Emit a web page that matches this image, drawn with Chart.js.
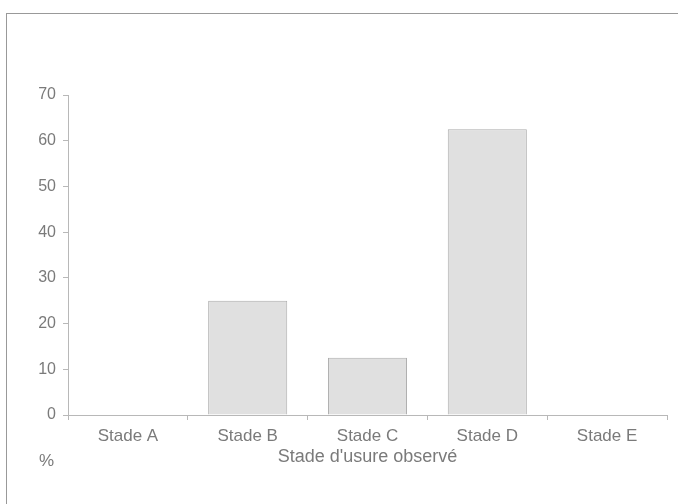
<!DOCTYPE html>
<html>
<head>
<meta charset="utf-8">
<script src="https://cdn.jsdelivr.net/npm/chart.js@4"></script>
<style>
    body { margin: 0; background: #fff; overflow: hidden; }
    #wrap { position: relative; width: 678px; height: 504px; }
    #frame { position: absolute; left: 6px; top: 13px; width: 700px; height: 520px; border-left: 1px solid #999; border-top: 1px solid #999; }
    #pct { position: absolute; left: 39px; top: 451px; font: 17px 'Liberation Sans', Arial, sans-serif; color: #7a7a7a; }
    canvas { position: absolute; left: 0; top: 0; }
</style>
</head>
<body>
<div id="wrap">
    <div id="frame"></div>
    <canvas id="chart" width="678" height="504"></canvas>
    <span id="pct">%</span>
</div>
<script>
// Reference data
const stades = ['Stade A', 'Stade B', 'Stade C', 'Stade D', 'Stade E'];
const pourcentages = [0, 25, 12.5, 62.5, 0];
const yMax = 70;
const yStep = 10;

const textColor = '#7a7a7a';
const axisColor = '#b8b8b8';
const family = "'Liberation Sans', Arial, sans-serif";

new Chart(document.getElementById('chart'), {
    type: 'bar',
    data: {
        labels: stades,
        datasets: [{
            data: pourcentages,
            backgroundColor: '#e0e0e0',
            borderColor: '#adadad',
            borderWidth: 1,
            categoryPercentage: 0.66,
            barPercentage: 1
        }]
    },
    options: {
        responsive: false,
        animation: false,
        layout: { padding: { top: 95, right: 11, left: 0, bottom: 36 } },
        plugins: { legend: { display: false }, tooltip: { enabled: false } },
        scales: {
            y: {
                min: 0,
                max: yMax,
                ticks: { stepSize: yStep, color: textColor, font: { family, size: 16 }, padding: 7 },
                grid: { drawOnChartArea: false, color: axisColor, tickLength: 5 },
                border: { color: axisColor },
                afterFit: scale => { scale.width = 68; }
            },
            x: {
                ticks: { color: textColor, font: { family, size: 17 }, padding: 6 },
                grid: { drawOnChartArea: false, color: axisColor, tickLength: 5, offset: true },
                border: { color: axisColor },
                title: { display: true, text: "Stade d'usure observé", color: textColor, font: { family, size: 18 }, padding: 0 },
                afterFit: scale => { scale.height = 53; }
            }
        }
    }
});
</script>
</body>
</html>
